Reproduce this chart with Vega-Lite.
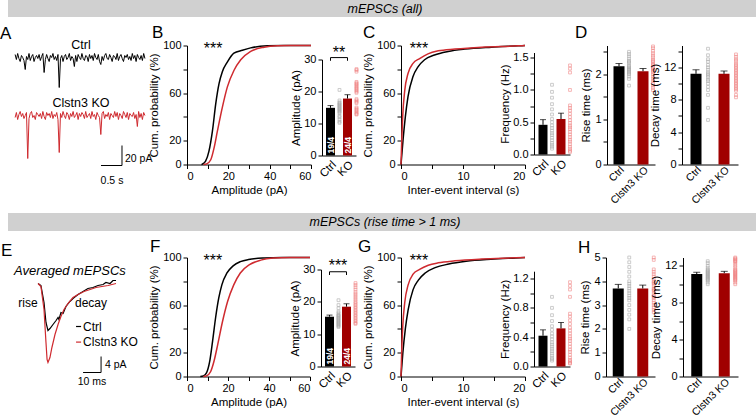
{
"$schema": "https://vega.github.io/schema/vega-lite/v6.json",
"padding": {"left": 0, "top": 0, "right": 0, "bottom": 0},
"background": "white",
"spacing": 6.5,
"config": {
 "font": "Liberation Sans",
 "view": {"stroke": null},
 "axis": {"domainColor": "#000000", "tickColor": "#000000", "labelColor": "#000000", "titleColor": "#000000", "labelFontSize": 11, "titleFontSize": 11.5, "titleFontWeight": "normal", "grid": false, "tickSize": 4, "labelPadding": 2, "titlePadding": 3, "labelFont": "Liberation Sans", "titleFont": "Liberation Sans"},
 "axisX": {"labelAngle": 0},
 "title": {"fontSize": 17, "fontWeight": "normal", "anchor": "start", "frame": "group", "baseline": "alphabetic", "font": "Liberation Sans", "color": "#000000"},
 "text": {"font": "Liberation Sans", "color": "#000000"}
},
"datasets": {
 "traceA": [
{"t":0.17,"Ctrl":110,"KO":47},{"t":0.20,"Ctrl":105,"KO":52},{"t":0.23,"Ctrl":111,"KO":45},{"t":0.26,"Ctrl":106,"KO":50},{"t":0.29,"Ctrl":103,"KO":53},{"t":0.32,"Ctrl":109,"KO":48},{"t":0.35,"Ctrl":107,"KO":51},{"t":0.38,"Ctrl":104,"KO":46},{"t":0.41,"Ctrl":95,"KO":49},{"t":0.44,"Ctrl":108,"KO":52},
{"t":0.47,"Ctrl":105,"KO":6},{"t":0.50,"Ctrl":111,"KO":46},{"t":0.53,"Ctrl":104,"KO":51},{"t":0.56,"Ctrl":108,"KO":53},{"t":0.59,"Ctrl":110,"KO":47},{"t":0.62,"Ctrl":103,"KO":49},{"t":0.65,"Ctrl":107,"KO":45},{"t":0.68,"Ctrl":109,"KO":52},{"t":0.71,"Ctrl":106,"KO":50},{"t":0.74,"Ctrl":110,"KO":48},
{"t":0.77,"Ctrl":104,"KO":51},{"t":0.80,"Ctrl":108,"KO":46},{"t":0.83,"Ctrl":111,"KO":53},{"t":0.86,"Ctrl":92,"KO":48},{"t":0.89,"Ctrl":105,"KO":45},{"t":0.92,"Ctrl":110,"KO":52},{"t":0.95,"Ctrl":106,"KO":49},{"t":0.98,"Ctrl":103,"KO":51},{"t":1.01,"Ctrl":109,"KO":47},{"t":1.04,"Ctrl":107,"KO":53},
{"t":1.07,"Ctrl":111,"KO":46},{"t":1.10,"Ctrl":105,"KO":50},{"t":1.13,"Ctrl":108,"KO":48},{"t":1.16,"Ctrl":104,"KO":52},{"t":1.19,"Ctrl":110,"KO":45},{"t":1.22,"Ctrl":77,"KO":12},{"t":1.25,"Ctrl":106,"KO":51},{"t":1.28,"Ctrl":109,"KO":47},{"t":1.31,"Ctrl":103,"KO":53},{"t":1.34,"Ctrl":108,"KO":49},
{"t":1.37,"Ctrl":110,"KO":46},{"t":1.40,"Ctrl":105,"KO":52},{"t":1.43,"Ctrl":107,"KO":50},{"t":1.46,"Ctrl":111,"KO":45},{"t":1.49,"Ctrl":104,"KO":51},{"t":1.52,"Ctrl":108,"KO":48},{"t":1.55,"Ctrl":106,"KO":53},{"t":1.58,"Ctrl":98,"KO":47},{"t":1.61,"Ctrl":109,"KO":49},{"t":1.64,"Ctrl":103,"KO":52},
{"t":1.67,"Ctrl":110,"KO":45},{"t":1.70,"Ctrl":107,"KO":51},{"t":1.73,"Ctrl":105,"KO":48},{"t":1.76,"Ctrl":111,"KO":52},{"t":1.79,"Ctrl":106,"KO":50},{"t":1.82,"Ctrl":104,"KO":46},{"t":1.85,"Ctrl":109,"KO":53},{"t":1.88,"Ctrl":108,"KO":47},{"t":1.91,"Ctrl":103,"KO":49},{"t":1.94,"Ctrl":110,"KO":51},
{"t":1.97,"Ctrl":106,"KO":46},{"t":2.00,"Ctrl":109,"KO":53},{"t":2.03,"Ctrl":104,"KO":48},{"t":2.06,"Ctrl":111,"KO":50},{"t":2.09,"Ctrl":107,"KO":45},{"t":2.12,"Ctrl":105,"KO":52},{"t":2.15,"Ctrl":110,"KO":49},{"t":2.18,"Ctrl":103,"KO":47},{"t":2.21,"Ctrl":100,"KO":30},{"t":2.24,"Ctrl":108,"KO":51},
{"t":2.27,"Ctrl":104,"KO":53},{"t":2.30,"Ctrl":109,"KO":46},{"t":2.33,"Ctrl":111,"KO":50},{"t":2.36,"Ctrl":106,"KO":48},{"t":2.39,"Ctrl":105,"KO":52},{"t":2.42,"Ctrl":110,"KO":45},{"t":2.45,"Ctrl":107,"KO":51},{"t":2.48,"Ctrl":103,"KO":49},{"t":2.51,"Ctrl":109,"KO":47},{"t":2.54,"Ctrl":108,"KO":53},
{"t":2.57,"Ctrl":105,"KO":48},{"t":2.60,"Ctrl":111,"KO":52},{"t":2.63,"Ctrl":104,"KO":45},{"t":2.66,"Ctrl":108,"KO":51},{"t":2.69,"Ctrl":110,"KO":49},{"t":2.72,"Ctrl":106,"KO":46},{"t":2.75,"Ctrl":103,"KO":53},{"t":2.78,"Ctrl":109,"KO":50},{"t":2.81,"Ctrl":107,"KO":47},{"t":2.84,"Ctrl":110,"KO":52},
{"t":2.87,"Ctrl":105,"KO":45},{"t":2.90,"Ctrl":108,"KO":51},{"t":2.93,"Ctrl":104,"KO":49},{"t":2.96,"Ctrl":111,"KO":48},{"t":2.99,"Ctrl":106,"KO":52},{"t":3.02,"Ctrl":109,"KO":46},{"t":3.05,"Ctrl":103,"KO":50},{"t":3.08,"Ctrl":110,"KO":38},{"t":3.11,"Ctrl":107,"KO":53},{"t":3.14,"Ctrl":105,"KO":47},
{"t":3.17,"Ctrl":109,"KO":51},{"t":3.20,"Ctrl":104,"KO":45},{"t":3.23,"Ctrl":111,"KO":52},{"t":3.26,"Ctrl":106,"KO":49}
 ],
 "traceE": [
{"g":"Ctrl","t":16.7,"v":23.25},{"g":"Ctrl","t":18.3,"v":22.75},{"g":"Ctrl","t":20.0,"v":18.5},{"g":"Ctrl","t":21.1,"v":13.5},{"g":"Ctrl","t":22.2,"v":11.5},{"g":"Ctrl","t":23.3,"v":12.0},{"g":"Ctrl","t":25.0,"v":13.0},{"g":"Ctrl","t":26.7,"v":14.0},{"g":"Ctrl","t":27.8,"v":14.75},{"g":"Ctrl","t":28.3,"v":14.25},{"g":"Ctrl","t":29.4,"v":16.0},{"g":"Ctrl","t":30.6,"v":15.75},{"g":"Ctrl","t":32.2,"v":17.5},{"g":"Ctrl","t":34.4,"v":18.75},{"g":"Ctrl","t":36.1,"v":19.5},{"g":"Ctrl","t":38.9,"v":20.5},{"g":"Ctrl","t":41.7,"v":21.25},{"g":"Ctrl","t":44.4,"v":22.0},{"g":"Ctrl","t":47.2,"v":22.25},{"g":"Ctrl","t":50.0,"v":22.75},{"g":"Ctrl","t":52.8,"v":23.0},{"g":"Ctrl","t":54.4,"v":23.5},{"g":"Ctrl","t":56.7,"v":23.25},{"g":"Ctrl","t":58.3,"v":24.0},{"g":"Ctrl","t":60.0,"v":24.0},
{"g":"KO","t":16.7,"v":23.25},{"g":"KO","t":18.3,"v":22.5},{"g":"KO","t":20.0,"v":16.75},{"g":"KO","t":21.1,"v":8.5},{"g":"KO","t":21.7,"v":4.25},{"g":"KO","t":22.2,"v":3.5},{"g":"KO","t":23.3,"v":4.75},{"g":"KO","t":24.4,"v":7.25},{"g":"KO","t":26.1,"v":10.5},{"g":"KO","t":27.8,"v":13.0},{"g":"KO","t":29.4,"v":15.0},{"g":"KO","t":31.1,"v":16.75},{"g":"KO","t":33.3,"v":18.25},{"g":"KO","t":36.1,"v":19.75},{"g":"KO","t":38.9,"v":20.5},{"g":"KO","t":42.2,"v":21.25},{"g":"KO","t":45.6,"v":21.75},{"g":"KO","t":48.9,"v":22.25},{"g":"KO","t":52.2,"v":22.5},{"g":"KO","t":55.6,"v":22.75},{"g":"KO","t":60.0,"v":23.25}
 ]
},
"vconcat": [
 {"width": 754, "height": 17, "view": {"fill": "#d0d0d0"}, "data": {"values": [{"s": "mEPSCs (all)"}]}, "mark": {"type": "text", "fontStyle": "italic", "fontSize": 12.5}, "encoding": {"text": {"field": "s"}}},
 {"hconcat": [
  {"width": 179, "height": 119, "title": {"text": "A", "dx": -8, "offset": -4.5},
   "encoding": {"x": {"field": "t", "type": "quantitative", "scale": {"domain": [0, 4.262], "nice": false, "zero": false}, "axis": null}, "y": {"field": "v", "type": "quantitative", "scale": {"domain": [0, 119], "nice": false, "zero": false}, "axis": null}},
   "layer": [
    {"data": {"name": "traceA"}, "transform": [{"fold": ["Ctrl", "KO"], "as": ["g", "v"]}], "mark": {"type": "line", "strokeWidth": 1}, "encoding": {"color": {"field": "g", "type": "nominal", "scale": {"domain": ["Ctrl", "KO"], "range": ["#000000", "#cf2a2f"]}, "legend": null}}},
    {"data": {"values": [{"t": 2.714, "t2": 2.714, "v": -1, "v2": 19}, {"t": 2.214, "t2": 2.714, "v": -1, "v2": -1}]}, "mark": {"type": "rule", "color": "#000000", "strokeWidth": 1}, "encoding": {"x2": {"field": "t2"}, "y2": {"field": "v2"}}},
    {"data": {"values": [{"t": 1.738, "v": 120, "s": "Ctrl"}, {"t": 1.738, "v": 62, "s": "Clstn3 KO"}]}, "mark": {"type": "text", "fontSize": 12.5}, "encoding": {"text": {"field": "s"}}},
    {"data": {"values": [{"t": 2.786, "v": 6, "s": "20 pA"}]}, "mark": {"type": "text", "fontSize": 10.5, "align": "left"}, "encoding": {"text": {"field": "s"}}},
    {"data": {"values": [{"t": 2.476, "v": -16, "s": "0.5 s"}]}, "mark": {"type": "text", "fontSize": 10.5}, "encoding": {"text": {"field": "s"}}}
   ]},
  {"width": 135, "height": 119, "title": {"text": "B", "dx": -35, "offset": -2.5},
   "encoding": {
    "x": {"field": "x", "type": "quantitative", "scale": {"domain": [0, 60], "range": [0, 124], "nice": false}, "axis": {"values": [0, 10, 20, 30, 40, 50, 60], "labelExpr": "datum.value % 20 == 0 ? datum.label : ''", "title": "Amplitude (pA)"}},
    "y": {"field": "p", "type": "quantitative", "scale": {"domain": [0, 100], "nice": false}, "axis": {"values": [0, 20, 40, 60, 80, 100], "labelExpr": "(datum.value == 40 || datum.value == 80) ? '' : datum.label", "title": "Cum. probability (%)"}}},
   "layer": [
    {"data": {"values": [
{"g":"Ctrl","x":7,"p":0},{"g":"Ctrl","x":7.4,"p":0.3},{"g":"Ctrl","x":9,"p":2.8},{"g":"Ctrl","x":10.6,"p":11},{"g":"Ctrl","x":12.3,"p":28},{"g":"Ctrl","x":13.9,"p":51},{"g":"Ctrl","x":15.5,"p":68},{"g":"Ctrl","x":17.1,"p":78},{"g":"Ctrl","x":19.5,"p":86},{"g":"Ctrl","x":22.7,"p":93.5},{"g":"Ctrl","x":26.8,"p":96},{"g":"Ctrl","x":30.8,"p":98},{"g":"Ctrl","x":38.9,"p":99.7},{"g":"Ctrl","x":47,"p":100},{"g":"Ctrl","x":60,"p":100},
{"g":"KO","x":8,"p":0},{"g":"KO","x":9.5,"p":0.5},{"g":"KO","x":11.5,"p":4},{"g":"KO","x":13.1,"p":14},{"g":"KO","x":14.7,"p":28},{"g":"KO","x":17.1,"p":48},{"g":"KO","x":19.5,"p":65},{"g":"KO","x":22.7,"p":79},{"g":"KO","x":26,"p":88},{"g":"KO","x":30.8,"p":95},{"g":"KO","x":37.3,"p":98.6},{"g":"KO","x":43.7,"p":99.8},{"g":"KO","x":50,"p":100},{"g":"KO","x":60,"p":100}
    ]}, "mark": {"type": "line", "interpolate": "monotone", "strokeWidth": 1.5}, "encoding": {"color": {"field": "g", "type": "nominal", "scale": {"domain": ["Ctrl", "KO"], "range": ["#000000", "#d8232a"]}, "legend": null}}},
    {"data": {"values": [{"x": 12.6, "p": 97, "s": "***"}]}, "mark": {"type": "text", "fontSize": 16, "baseline": "middle"}, "encoding": {"text": {"field": "s"}}}
   ]},
  {"width": 79, "height": 119,
   "encoding": {
    "x": {"field": "g", "type": "nominal", "sort": null, "scale": {"domain": ["Ctrl", "KO"], "range": [0, 34], "paddingInner": 0, "paddingOuter": 0}, "axis": {"title": null, "ticks": false, "labelAngle": -45, "labelFontSize": 11.5, "labelPadding": 3, "offset": -9}},
    "y": {"field": "v", "type": "quantitative", "scale": {"domain": [0, 30], "range": [110, 14], "nice": false}, "axis": {"values": [0, 10, 20, 30], "title": "Amplitude (pA)", "titlePadding": 2}}},
   "layer": [
    {"data": {"values": [{"g": "Ctrl", "v": 14.9}, {"g": "KO", "v": 17.8}]}, "mark": {"type": "bar", "width": 9}, "encoding": {"fill": {"field": "g", "type": "nominal", "scale": {"domain": ["Ctrl", "KO"], "range": ["#000000", "#a00000"]}, "legend": null}}},
    {"data": {"values": [{"g": "Ctrl", "v": 15.6, "v2": 14.9}, {"g": "KO", "v": 19.0, "v2": 17.8}]}, "mark": {"type": "rule", "color": "#000000"}, "encoding": {"y2": {"field": "v2"}}},
    {"data": {"values": [{"g": "Ctrl", "v": 15.6}, {"g": "KO", "v": 19.0}]}, "mark": {"type": "tick", "color": "#000000", "size": 6, "thickness": 1}},
    {"data": {"values": [{"g": "Ctrl", "v": 0, "s": "19/4"}, {"g": "KO", "v": 0, "s": "24/4"}]}, "mark": {"type": "text", "angle": 270, "align": "left", "baseline": "middle", "dx": 2, "color": "#ffffff", "fontSize": 8.5, "fontWeight": "bold"}, "encoding": {"text": {"field": "s"}}},
    {"data": {"values": [{"g": "Ctrl", "g2": "KO", "v": 30.6, "v2": 30.6}]}, "mark": {"type": "rule", "color": "#000000"}, "encoding": {"x2": {"field": "g2"}, "y2": {"field": "v2"}}},
    {"data": {"values": [{"g": "Ctrl", "v": 30.6, "v2": 29.6}, {"g": "KO", "v": 30.6, "v2": 29.6}]}, "mark": {"type": "rule", "color": "#000000"}, "encoding": {"y2": {"field": "v2"}}},
    {"data": {"values": [{"g": "Ctrl", "v": 32, "s": "**"}]}, "mark": {"type": "text", "fontSize": 16, "dx": 8.5, "baseline": "middle"}, "encoding": {"text": {"field": "s"}}},
    {"data": {"values": [
{"g":"Ctrl","v":20.5},{"g":"Ctrl","v":17.2},{"g":"Ctrl","v":16.6},{"g":"Ctrl","v":16.3},{"g":"Ctrl","v":16.0},{"g":"Ctrl","v":15.7},{"g":"Ctrl","v":15.4},{"g":"Ctrl","v":15.1},{"g":"Ctrl","v":14.8},{"g":"Ctrl","v":14.5},{"g":"Ctrl","v":14.2},{"g":"Ctrl","v":13.9},{"g":"Ctrl","v":13.6},{"g":"Ctrl","v":13.2},{"g":"Ctrl","v":12.4},{"g":"Ctrl","v":12.0},{"g":"Ctrl","v":11.3},{"g":"Ctrl","v":10.6},{"g":"Ctrl","v":10.2},
{"g":"KO","v":27.0},{"g":"KO","v":26.7},{"g":"KO","v":26.2},{"g":"KO","v":23.0},{"g":"KO","v":22.6},{"g":"KO","v":22.3},{"g":"KO","v":21.9},{"g":"KO","v":21.5},{"g":"KO","v":21.1},{"g":"KO","v":20.8},{"g":"KO","v":20.4},{"g":"KO","v":20.0},{"g":"KO","v":19.6},{"g":"KO","v":17.6},{"g":"KO","v":17.2},{"g":"KO","v":16.8},{"g":"KO","v":16.4},{"g":"KO","v":15.0},{"g":"KO","v":14.6},{"g":"KO","v":14.2},{"g":"KO","v":13.8},{"g":"KO","v":13.4},{"g":"KO","v":13.0},{"g":"KO","v":12.8}
    ]}, "mark": {"type": "point", "shape": "square", "filled": false, "size": 8, "strokeWidth": 0.8, "xOffset": 9}, "encoding": {"stroke": {"field": "g", "type": "nominal", "scale": {"domain": ["Ctrl", "KO"], "range": ["#a6a6a6", "#f07f7f"]}, "legend": null}}}
   ]},
  {"width": 133, "height": 119, "title": {"text": "C", "dx": -38, "offset": -2.5},
   "encoding": {
    "x": {"field": "x", "type": "quantitative", "scale": {"domain": [0, 20], "range": [0, 124], "nice": false}, "axis": {"values": [0, 5, 10, 15, 20], "labelExpr": "datum.value % 10 == 0 ? datum.label : ''", "title": "Inter-event interval (s)"}},
    "y": {"field": "p", "type": "quantitative", "scale": {"domain": [0, 100], "nice": false}, "axis": {"values": [0, 20, 40, 60, 80, 100], "labelExpr": "(datum.value == 40 || datum.value == 80) ? '' : datum.label", "title": "Cum. probability (%)"}}},
   "layer": [
    {"data": {"values": [
{"g":"Ctrl","x":0,"p":0},{"g":"Ctrl","x":0.32,"p":20},{"g":"Ctrl","x":0.7,"p":40},{"g":"Ctrl","x":1.13,"p":57},{"g":"Ctrl","x":1.94,"p":74},{"g":"Ctrl","x":2.74,"p":82},{"g":"Ctrl","x":3.8,"p":88},{"g":"Ctrl","x":5.4,"p":92},{"g":"Ctrl","x":7.6,"p":95},{"g":"Ctrl","x":10.3,"p":97},{"g":"Ctrl","x":14.6,"p":98.6},{"g":"Ctrl","x":18.9,"p":99.7},{"g":"Ctrl","x":20,"p":100},
{"g":"KO","x":0,"p":0},{"g":"KO","x":0.12,"p":20},{"g":"KO","x":0.27,"p":40},{"g":"KO","x":0.6,"p":62},{"g":"KO","x":1.13,"p":76.5},{"g":"KO","x":1.94,"p":85},{"g":"KO","x":3.0,"p":89},{"g":"KO","x":4.35,"p":93},{"g":"KO","x":6,"p":95.5},{"g":"KO","x":8.7,"p":97},{"g":"KO","x":13,"p":98.6},{"g":"KO","x":18.9,"p":99.7},{"g":"KO","x":20,"p":100}
    ]}, "mark": {"type": "line", "interpolate": "monotone", "strokeWidth": 1.5}, "encoding": {"color": {"field": "g", "type": "nominal", "scale": {"domain": ["Ctrl", "KO"], "range": ["#000000", "#d8232a"]}, "legend": null}}},
    {"data": {"values": [{"x": 2.9, "p": 97, "s": "***"}]}, "mark": {"type": "text", "fontSize": 16, "baseline": "middle"}, "encoding": {"text": {"field": "s"}}}
   ]},
  {"width": 73, "height": 119,
   "encoding": {
    "x": {"field": "g", "type": "nominal", "sort": null, "scale": {"domain": ["Ctrl", "KO"], "range": [0, 36], "paddingInner": 0, "paddingOuter": 0}, "axis": {"title": null, "ticks": false, "labelAngle": -45, "labelFontSize": 11.5, "labelPadding": 3, "offset": -10}},
    "y": {"field": "v", "type": "quantitative", "scale": {"domain": [0, 1.58], "range": [109, 7], "nice": false}, "axis": {"values": [0, 0.25, 0.5, 0.75, 1, 1.25, 1.5], "labelExpr": "(datum.value * 2) % 1 == 0 ? format(datum.value, '.1f') : ''", "title": "Frequency (Hz)", "titlePadding": 2}}},
   "layer": [
    {"data": {"values": [{"g": "Ctrl", "v": 0.46}, {"g": "KO", "v": 0.55}]}, "mark": {"type": "bar", "width": 9}, "encoding": {"fill": {"field": "g", "type": "nominal", "scale": {"domain": ["Ctrl", "KO"], "range": ["#000000", "#a00000"]}, "legend": null}}},
    {"data": {"values": [{"g": "Ctrl", "v": 0.54, "v2": 0.46}, {"g": "KO", "v": 0.64, "v2": 0.55}]}, "mark": {"type": "rule", "color": "#000000"}, "encoding": {"y2": {"field": "v2"}}},
    {"data": {"values": [{"g": "Ctrl", "v": 0.54}, {"g": "KO", "v": 0.64}]}, "mark": {"type": "tick", "color": "#000000", "size": 6, "thickness": 1}},
    {"data": {"values": [
{"g":"Ctrl","v":1.08},{"g":"Ctrl","v":0.97},{"g":"Ctrl","v":0.88},{"g":"Ctrl","v":0.78},{"g":"Ctrl","v":0.70},{"g":"Ctrl","v":0.62},{"g":"Ctrl","v":0.55},{"g":"Ctrl","v":0.50},{"g":"Ctrl","v":0.45},{"g":"Ctrl","v":0.41},{"g":"Ctrl","v":0.37},{"g":"Ctrl","v":0.33},{"g":"Ctrl","v":0.30},{"g":"Ctrl","v":0.26},{"g":"Ctrl","v":0.22},{"g":"Ctrl","v":0.18},{"g":"Ctrl","v":0.15},{"g":"Ctrl","v":0.12},{"g":"Ctrl","v":0.09},
{"g":"KO","v":1.38},{"g":"KO","v":1.33},{"g":"KO","v":1.27},{"g":"KO","v":1.0},{"g":"KO","v":0.76},{"g":"KO","v":0.72},{"g":"KO","v":0.68},{"g":"KO","v":0.63},{"g":"KO","v":0.58},{"g":"KO","v":0.53},{"g":"KO","v":0.49},{"g":"KO","v":0.45},{"g":"KO","v":0.42},{"g":"KO","v":0.39},{"g":"KO","v":0.35},{"g":"KO","v":0.31},{"g":"KO","v":0.27},{"g":"KO","v":0.23},{"g":"KO","v":0.20},{"g":"KO","v":0.16},{"g":"KO","v":0.12},{"g":"KO","v":0.09},{"g":"KO","v":0.06},{"g":"KO","v":0.04}
    ]}, "mark": {"type": "point", "shape": "square", "filled": false, "size": 8, "strokeWidth": 0.8, "xOffset": 9}, "encoding": {"stroke": {"field": "g", "type": "nominal", "scale": {"domain": ["Ctrl", "KO"], "range": ["#a6a6a6", "#f07f7f"]}, "legend": null}}}
   ]},
  {"width": 75, "height": 119, "title": {"text": "D", "dx": -32, "offset": 1.5},
   "encoding": {
    "x": {"field": "g", "type": "nominal", "sort": null, "scale": {"domain": ["Ctrl", "KO"], "range": [0, 48], "paddingInner": 0, "paddingOuter": 0}, "axis": {"title": null, "ticks": false, "labelAngle": -45, "labelFontSize": 10.5, "labelPadding": 0, "labelExpr": "datum.value == 'KO' ? 'Clstn3 KO' : 'Ctrl'"}},
    "y": {"field": "v", "type": "quantitative", "scale": {"domain": [0, 2.64], "nice": false}, "axis": {"values": [0, 0.5, 1, 1.5, 2, 2.5], "labelExpr": "datum.value % 1 == 0 ? format(datum.value, 'd') : ''", "title": "Rise time (ms)"}}},
   "layer": [
    {"data": {"values": [{"g": "Ctrl", "v": 2.18}, {"g": "KO", "v": 2.07}]}, "mark": {"type": "bar", "width": 11}, "encoding": {"fill": {"field": "g", "type": "nominal", "scale": {"domain": ["Ctrl", "KO"], "range": ["#000000", "#a00000"]}, "legend": null}}},
    {"data": {"values": [{"g": "Ctrl", "v": 2.24, "v2": 2.18}, {"g": "KO", "v": 2.13, "v2": 2.07}]}, "mark": {"type": "rule", "color": "#000000"}, "encoding": {"y2": {"field": "v2"}}},
    {"data": {"values": [{"g": "Ctrl", "v": 2.24}, {"g": "KO", "v": 2.13}]}, "mark": {"type": "tick", "color": "#000000", "size": 7, "thickness": 1}},
    {"data": {"values": [
{"g":"Ctrl","v":2.5},{"g":"Ctrl","v":2.45},{"g":"Ctrl","v":2.4},{"g":"Ctrl","v":2.35},{"g":"Ctrl","v":2.3},{"g":"Ctrl","v":2.28},{"g":"Ctrl","v":2.25},{"g":"Ctrl","v":2.2},{"g":"Ctrl","v":2.17},{"g":"Ctrl","v":2.15},{"g":"Ctrl","v":2.12},{"g":"Ctrl","v":2.1},{"g":"Ctrl","v":2.08},{"g":"Ctrl","v":2.05},{"g":"Ctrl","v":2.02},{"g":"Ctrl","v":2.0},{"g":"Ctrl","v":1.95},{"g":"Ctrl","v":1.9},{"g":"Ctrl","v":1.75},
{"g":"KO","v":2.62},{"g":"KO","v":2.58},{"g":"KO","v":2.52},{"g":"KO","v":2.47},{"g":"KO","v":2.42},{"g":"KO","v":2.38},{"g":"KO","v":2.33},{"g":"KO","v":2.3},{"g":"KO","v":2.27},{"g":"KO","v":2.23},{"g":"KO","v":2.2},{"g":"KO","v":2.17},{"g":"KO","v":2.14},{"g":"KO","v":2.11},{"g":"KO","v":2.08},{"g":"KO","v":2.05},{"g":"KO","v":2.0},{"g":"KO","v":1.95},{"g":"KO","v":1.9},{"g":"KO","v":1.85},{"g":"KO","v":1.8},{"g":"KO","v":1.75},{"g":"KO","v":1.7},{"g":"KO","v":1.65}
    ]}, "mark": {"type": "point", "shape": "square", "filled": false, "size": 8, "strokeWidth": 0.8, "xOffset": 10}, "encoding": {"stroke": {"field": "g", "type": "nominal", "scale": {"domain": ["Ctrl", "KO"], "range": ["#a6a6a6", "#f07f7f"]}, "legend": null}}}
   ]},
  {"width": 72, "height": 119,
   "encoding": {
    "x": {"field": "g", "type": "nominal", "sort": null, "scale": {"domain": ["Ctrl", "KO"], "range": [0, 56], "paddingInner": 0, "paddingOuter": 0}, "axis": {"title": null, "ticks": false, "labelAngle": -45, "labelFontSize": 10.5, "labelPadding": 0, "labelExpr": "datum.value == 'KO' ? 'Clstn3 KO' : 'Ctrl'"}},
    "y": {"field": "v", "type": "quantitative", "scale": {"domain": [0, 14.7], "nice": false}, "axis": {"values": [0, 2, 4, 6, 8, 10, 12, 14], "labelExpr": "datum.value % 4 == 0 ? format(datum.value, 'd') : ''", "title": "Decay time (ms)"}}},
   "layer": [
    {"data": {"values": [{"g": "Ctrl", "v": 11.2}, {"g": "KO", "v": 11.2}]}, "mark": {"type": "bar", "width": 11}, "encoding": {"fill": {"field": "g", "type": "nominal", "scale": {"domain": ["Ctrl", "KO"], "range": ["#000000", "#a00000"]}, "legend": null}}},
    {"data": {"values": [{"g": "Ctrl", "v": 11.7, "v2": 11.2}, {"g": "KO", "v": 11.55, "v2": 11.2}]}, "mark": {"type": "rule", "color": "#000000"}, "encoding": {"y2": {"field": "v2"}}},
    {"data": {"values": [{"g": "Ctrl", "v": 11.7}, {"g": "KO", "v": 11.55}]}, "mark": {"type": "tick", "color": "#000000", "size": 7, "thickness": 1}},
    {"data": {"values": [
{"g":"Ctrl","v":14.3},{"g":"Ctrl","v":13.5},{"g":"Ctrl","v":13.0},{"g":"Ctrl","v":12.7},{"g":"Ctrl","v":12.3},{"g":"Ctrl","v":12.0},{"g":"Ctrl","v":11.7},{"g":"Ctrl","v":11.4},{"g":"Ctrl","v":11.2},{"g":"Ctrl","v":11.0},{"g":"Ctrl","v":10.8},{"g":"Ctrl","v":10.5},{"g":"Ctrl","v":10.3},{"g":"Ctrl","v":10.0},{"g":"Ctrl","v":9.6},{"g":"Ctrl","v":9.2},{"g":"Ctrl","v":8.6},{"g":"Ctrl","v":7.0},{"g":"Ctrl","v":5.5},
{"g":"KO","v":13.6},{"g":"KO","v":13.3},{"g":"KO","v":13.0},{"g":"KO","v":12.8},{"g":"KO","v":12.5},{"g":"KO","v":12.3},{"g":"KO","v":12.1},{"g":"KO","v":11.9},{"g":"KO","v":11.7},{"g":"KO","v":11.5},{"g":"KO","v":11.3},{"g":"KO","v":11.1},{"g":"KO","v":10.9},{"g":"KO","v":10.7},{"g":"KO","v":10.5},{"g":"KO","v":10.3},{"g":"KO","v":10.1},{"g":"KO","v":9.9},{"g":"KO","v":9.7},{"g":"KO","v":9.5},{"g":"KO","v":9.3},{"g":"KO","v":9.1},{"g":"KO","v":8.6},{"g":"KO","v":8.3}
    ]}, "mark": {"type": "point", "shape": "square", "filled": false, "size": 8, "strokeWidth": 0.8, "xOffset": 12}, "encoding": {"stroke": {"field": "g", "type": "nominal", "scale": {"domain": ["Ctrl", "KO"], "range": ["#a6a6a6", "#f07f7f"]}, "legend": null}}}
   ]}
 ], "spacing": 0, "bounds": "flush"},
 {"width": 754, "height": 18, "view": {"fill": "#d0d0d0"}, "data": {"values": [{"s": "mEPSCs (rise time > 1 ms)"}]}, "mark": {"type": "text", "fontStyle": "italic", "fontSize": 12.5}, "encoding": {"text": {"field": "s"}}},
 {"hconcat": [
  {"width": 179, "height": 119, "title": {"text": "E", "dx": -7, "offset": -2},
   "encoding": {"x": {"field": "t", "type": "quantitative", "scale": {"domain": [0, 99.44], "nice": false, "zero": false}, "axis": null}, "y": {"field": "v", "type": "quantitative", "scale": {"domain": [0, 29.75], "nice": false, "zero": false}, "axis": null}},
   "layer": [
    {"data": {"name": "traceE"}, "mark": {"type": "line", "strokeWidth": 1.2}, "encoding": {"color": {"field": "g", "type": "nominal", "scale": {"domain": ["Ctrl", "KO"], "range": ["#000000", "#d8232a"]}, "legend": null}}},
    {"data": {"values": [{"g": "Ctrl", "t": 37.8, "t2": 40.6, "v": 12.5, "v2": 12.5}, {"g": "KO", "t": 37.8, "t2": 40.6, "v": 8.6, "v2": 8.6}]}, "mark": {"type": "rule", "strokeWidth": 1.2}, "encoding": {"x2": {"field": "t2"}, "y2": {"field": "v2"}, "color": {"field": "g", "type": "nominal", "legend": null}}},
    {"data": {"values": [{"t": 51.7, "t2": 51.7, "v": 1, "v2": 5}, {"t": 41.7, "t2": 51.7, "v": 1, "v2": 1}]}, "mark": {"type": "rule", "color": "#000000", "strokeWidth": 1}, "encoding": {"x2": {"field": "t2"}, "y2": {"field": "v2"}}},
    {"data": {"values": [{"t": 34.4, "v": 26.5, "s": "Averaged mEPSCs"}]}, "mark": {"type": "text", "fontSize": 13, "fontStyle": "italic"}, "encoding": {"text": {"field": "s"}}},
    {"data": {"values": [{"t": 11.1, "v": 18.5, "s": "rise"}, {"t": 46.1, "v": 18.5, "s": "decay"}]}, "mark": {"type": "text", "fontSize": 12}, "encoding": {"text": {"field": "s"}}},
    {"data": {"values": [{"t": 41.7, "v": 12.5, "s": "Ctrl"}, {"t": 41.7, "v": 8.6, "s": "Clstn3 KO"}]}, "mark": {"type": "text", "fontSize": 12, "align": "left"}, "encoding": {"text": {"field": "s"}}},
    {"data": {"values": [{"t": 53.9, "v": 3, "s": "4 pA"}]}, "mark": {"type": "text", "fontSize": 10.5, "align": "left"}, "encoding": {"text": {"field": "s"}}},
    {"data": {"values": [{"t": 46.7, "v": -1.25, "s": "10 ms"}]}, "mark": {"type": "text", "fontSize": 10.5}, "encoding": {"text": {"field": "s"}}}
   ]},
  {"width": 134, "height": 119, "title": {"text": "F", "dx": -37, "offset": -4},
   "encoding": {
    "x": {"field": "x", "type": "quantitative", "scale": {"domain": [0, 60], "range": [0, 123], "nice": false}, "axis": {"values": [0, 10, 20, 30, 40, 50, 60], "labelExpr": "datum.value % 20 == 0 ? datum.label : ''", "title": "Amplitude (pA)"}},
    "y": {"field": "p", "type": "quantitative", "scale": {"domain": [0, 100], "nice": false}, "axis": {"values": [0, 20, 40, 60, 80, 100], "labelExpr": "(datum.value == 40 || datum.value == 80) ? '' : datum.label", "title": "Cum. probability (%)"}}},
   "layer": [
    {"data": {"values": [
{"g":"Ctrl","x":6.5,"p":0},{"g":"Ctrl","x":8,"p":0.5},{"g":"Ctrl","x":9.5,"p":3},{"g":"Ctrl","x":11,"p":12},{"g":"Ctrl","x":12.5,"p":30},{"g":"Ctrl","x":14,"p":50},{"g":"Ctrl","x":15.5,"p":66},{"g":"Ctrl","x":17,"p":77},{"g":"Ctrl","x":19.5,"p":87},{"g":"Ctrl","x":22.5,"p":93},{"g":"Ctrl","x":26,"p":96.5},{"g":"Ctrl","x":30,"p":98.3},{"g":"Ctrl","x":38,"p":99.6},{"g":"Ctrl","x":46,"p":100},{"g":"Ctrl","x":60,"p":100},
{"g":"KO","x":8,"p":0},{"g":"KO","x":9.5,"p":0.5},{"g":"KO","x":11.5,"p":4},{"g":"KO","x":13.2,"p":13},{"g":"KO","x":15,"p":27},{"g":"KO","x":17.3,"p":46},{"g":"KO","x":19.8,"p":63},{"g":"KO","x":22.8,"p":77},{"g":"KO","x":26,"p":87},{"g":"KO","x":30.5,"p":94},{"g":"KO","x":36,"p":97.8},{"g":"KO","x":42,"p":99.5},{"g":"KO","x":50,"p":100},{"g":"KO","x":60,"p":100}
    ]}, "mark": {"type": "line", "interpolate": "monotone", "strokeWidth": 1.5}, "encoding": {"color": {"field": "g", "type": "nominal", "scale": {"domain": ["Ctrl", "KO"], "range": ["#000000", "#d8232a"]}, "legend": null}}},
    {"data": {"values": [{"x": 12.6, "p": 97, "s": "***"}]}, "mark": {"type": "text", "fontSize": 16, "baseline": "middle"}, "encoding": {"text": {"field": "s"}}}
   ]},
  {"width": 80, "height": 119,
   "encoding": {
    "x": {"field": "g", "type": "nominal", "sort": null, "scale": {"domain": ["Ctrl", "KO"], "range": [0, 34], "paddingInner": 0, "paddingOuter": 0}, "axis": {"title": null, "ticks": false, "labelAngle": -45, "labelFontSize": 11.5, "labelPadding": 3, "offset": -10}},
    "y": {"field": "v", "type": "quantitative", "scale": {"domain": [0, 30], "range": [109, 12], "nice": false}, "axis": {"values": [0, 10, 20, 30], "title": "Amplitude (pA)", "titlePadding": 2}}},
   "layer": [
    {"data": {"values": [{"g": "Ctrl", "v": 15.4}, {"g": "KO", "v": 18.5}]}, "mark": {"type": "bar", "width": 9}, "encoding": {"fill": {"field": "g", "type": "nominal", "scale": {"domain": ["Ctrl", "KO"], "range": ["#000000", "#a00000"]}, "legend": null}}},
    {"data": {"values": [{"g": "Ctrl", "v": 15.9, "v2": 15.4}, {"g": "KO", "v": 19.4, "v2": 18.5}]}, "mark": {"type": "rule", "color": "#000000"}, "encoding": {"y2": {"field": "v2"}}},
    {"data": {"values": [{"g": "Ctrl", "v": 15.9}, {"g": "KO", "v": 19.4}]}, "mark": {"type": "tick", "color": "#000000", "size": 6, "thickness": 1}},
    {"data": {"values": [{"g": "Ctrl", "v": 0, "s": "19/4"}, {"g": "KO", "v": 0, "s": "24/4"}]}, "mark": {"type": "text", "angle": 270, "align": "left", "baseline": "middle", "dx": 2, "color": "#ffffff", "fontSize": 8.5, "fontWeight": "bold"}, "encoding": {"text": {"field": "s"}}},
    {"data": {"values": [{"g": "Ctrl", "g2": "KO", "v": 29.3, "v2": 29.3}]}, "mark": {"type": "rule", "color": "#000000"}, "encoding": {"x2": {"field": "g2"}, "y2": {"field": "v2"}}},
    {"data": {"values": [{"g": "Ctrl", "v": 29.3, "v2": 28.3}, {"g": "KO", "v": 29.3, "v2": 28.3}]}, "mark": {"type": "rule", "color": "#000000"}, "encoding": {"y2": {"field": "v2"}}},
    {"data": {"values": [{"g": "Ctrl", "v": 31, "s": "***"}]}, "mark": {"type": "text", "fontSize": 16, "dx": 8.5, "baseline": "middle"}, "encoding": {"text": {"field": "s"}}},
    {"data": {"values": [
{"g":"Ctrl","v":20.5},{"g":"Ctrl","v":19.0},{"g":"Ctrl","v":18.0},{"g":"Ctrl","v":17.0},{"g":"Ctrl","v":16.5},{"g":"Ctrl","v":16.0},{"g":"Ctrl","v":15.8},{"g":"Ctrl","v":15.5},{"g":"Ctrl","v":15.2},{"g":"Ctrl","v":14.9},{"g":"Ctrl","v":14.6},{"g":"Ctrl","v":14.3},{"g":"Ctrl","v":14.0},{"g":"Ctrl","v":13.7},{"g":"Ctrl","v":13.4},{"g":"Ctrl","v":13.1},{"g":"Ctrl","v":12.8},{"g":"Ctrl","v":12.5},{"g":"Ctrl","v":12.2},
{"g":"KO","v":25.8},{"g":"KO","v":25.2},{"g":"KO","v":24.5},{"g":"KO","v":23.8},{"g":"KO","v":23.0},{"g":"KO","v":22.4},{"g":"KO","v":21.8},{"g":"KO","v":21.2},{"g":"KO","v":20.6},{"g":"KO","v":20.0},{"g":"KO","v":19.5},{"g":"KO","v":19.0},{"g":"KO","v":18.5},{"g":"KO","v":18.0},{"g":"KO","v":17.5},{"g":"KO","v":17.0},{"g":"KO","v":16.5},{"g":"KO","v":16.0},{"g":"KO","v":15.5},{"g":"KO","v":15.0},{"g":"KO","v":14.5},{"g":"KO","v":14.0},{"g":"KO","v":13.5},{"g":"KO","v":13.2}
    ]}, "mark": {"type": "point", "shape": "square", "filled": false, "size": 8, "strokeWidth": 0.8, "xOffset": 9}, "encoding": {"stroke": {"field": "g", "type": "nominal", "scale": {"domain": ["Ctrl", "KO"], "range": ["#a6a6a6", "#f07f7f"]}, "legend": null}}}
   ]},
  {"width": 133, "height": 119, "title": {"text": "G", "dx": -43, "offset": -4},
   "encoding": {
    "x": {"field": "x", "type": "quantitative", "scale": {"domain": [0, 20], "range": [0, 124], "nice": false}, "axis": {"values": [0, 5, 10, 15, 20], "labelExpr": "datum.value % 10 == 0 ? datum.label : ''", "title": "Inter-event interval (s)"}},
    "y": {"field": "p", "type": "quantitative", "scale": {"domain": [0, 100], "nice": false}, "axis": {"values": [0, 20, 40, 60, 80, 100], "labelExpr": "(datum.value == 40 || datum.value == 80) ? '' : datum.label", "title": "Cum. probability (%)"}}},
   "layer": [
    {"data": {"values": [
{"g":"Ctrl","x":0,"p":0},{"g":"Ctrl","x":0.3,"p":20},{"g":"Ctrl","x":0.7,"p":40},{"g":"Ctrl","x":1.15,"p":56},{"g":"Ctrl","x":1.95,"p":73},{"g":"Ctrl","x":2.8,"p":81},{"g":"Ctrl","x":3.9,"p":87},{"g":"Ctrl","x":5.5,"p":91.5},{"g":"Ctrl","x":7.7,"p":94.5},{"g":"Ctrl","x":10.5,"p":96.8},{"g":"Ctrl","x":14.5,"p":98.5},{"g":"Ctrl","x":18.5,"p":99.6},{"g":"Ctrl","x":20,"p":100},
{"g":"KO","x":0,"p":0},{"g":"KO","x":0.12,"p":22},{"g":"KO","x":0.28,"p":42},{"g":"KO","x":0.6,"p":62},{"g":"KO","x":1.15,"p":77},{"g":"KO","x":1.95,"p":86},{"g":"KO","x":3.0,"p":90},{"g":"KO","x":4.4,"p":93.5},{"g":"KO","x":6,"p":95.5},{"g":"KO","x":8.7,"p":97.2},{"g":"KO","x":13,"p":98.7},{"g":"KO","x":18.5,"p":99.7},{"g":"KO","x":20,"p":100}
    ]}, "mark": {"type": "line", "interpolate": "monotone", "strokeWidth": 1.5}, "encoding": {"color": {"field": "g", "type": "nominal", "scale": {"domain": ["Ctrl", "KO"], "range": ["#000000", "#d8232a"]}, "legend": null}}},
    {"data": {"values": [{"x": 2.9, "p": 97, "s": "***"}]}, "mark": {"type": "text", "fontSize": 16, "baseline": "middle"}, "encoding": {"text": {"field": "s"}}}
   ]},
  {"width": 72, "height": 119,
   "encoding": {
    "x": {"field": "g", "type": "nominal", "sort": null, "scale": {"domain": ["Ctrl", "KO"], "range": [0, 36], "paddingInner": 0, "paddingOuter": 0}, "axis": {"title": null, "ticks": false, "labelAngle": -45, "labelFontSize": 11.5, "labelPadding": 3, "offset": -10}},
    "y": {"field": "v", "type": "quantitative", "scale": {"domain": [0, 1.3], "range": [109, 13.7], "nice": false}, "axis": {"values": [0, 0.2, 0.4, 0.6, 0.8, 1.0, 1.2], "labelExpr": "round(datum.value * 10) % 4 == 0 ? format(datum.value, '.1f') : ''", "title": "Frequency (Hz)", "titlePadding": 2}}},
   "layer": [
    {"data": {"values": [{"g": "Ctrl", "v": 0.42}, {"g": "KO", "v": 0.52}]}, "mark": {"type": "bar", "width": 9}, "encoding": {"fill": {"field": "g", "type": "nominal", "scale": {"domain": ["Ctrl", "KO"], "range": ["#000000", "#a00000"]}, "legend": null}}},
    {"data": {"values": [{"g": "Ctrl", "v": 0.5, "v2": 0.42}, {"g": "KO", "v": 0.6, "v2": 0.52}]}, "mark": {"type": "rule", "color": "#000000"}, "encoding": {"y2": {"field": "v2"}}},
    {"data": {"values": [{"g": "Ctrl", "v": 0.5}, {"g": "KO", "v": 0.6}]}, "mark": {"type": "tick", "color": "#000000", "size": 6, "thickness": 1}},
    {"data": {"values": [
{"g":"Ctrl","v":0.95},{"g":"Ctrl","v":0.8},{"g":"Ctrl","v":0.7},{"g":"Ctrl","v":0.62},{"g":"Ctrl","v":0.55},{"g":"Ctrl","v":0.5},{"g":"Ctrl","v":0.45},{"g":"Ctrl","v":0.41},{"g":"Ctrl","v":0.37},{"g":"Ctrl","v":0.33},{"g":"Ctrl","v":0.3},{"g":"Ctrl","v":0.27},{"g":"Ctrl","v":0.24},{"g":"Ctrl","v":0.21},{"g":"Ctrl","v":0.18},{"g":"Ctrl","v":0.15},{"g":"Ctrl","v":0.12},{"g":"Ctrl","v":0.1},{"g":"Ctrl","v":0.08},
{"g":"KO","v":1.15},{"g":"KO","v":1.1},{"g":"KO","v":1.05},{"g":"KO","v":0.95},{"g":"KO","v":0.72},{"g":"KO","v":0.68},{"g":"KO","v":0.63},{"g":"KO","v":0.58},{"g":"KO","v":0.53},{"g":"KO","v":0.49},{"g":"KO","v":0.45},{"g":"KO","v":0.41},{"g":"KO","v":0.38},{"g":"KO","v":0.35},{"g":"KO","v":0.31},{"g":"KO","v":0.27},{"g":"KO","v":0.23},{"g":"KO","v":0.2},{"g":"KO","v":0.16},{"g":"KO","v":0.12},{"g":"KO","v":0.09},{"g":"KO","v":0.07},{"g":"KO","v":0.05},{"g":"KO","v":0.04}
    ]}, "mark": {"type": "point", "shape": "square", "filled": false, "size": 8, "strokeWidth": 0.8, "xOffset": 9}, "encoding": {"stroke": {"field": "g", "type": "nominal", "scale": {"domain": ["Ctrl", "KO"], "range": ["#a6a6a6", "#f07f7f"]}, "legend": null}}}
   ]},
  {"width": 77, "height": 119, "title": {"text": "H", "dx": -28, "offset": -5},
   "encoding": {
    "x": {"field": "g", "type": "nominal", "sort": null, "scale": {"domain": ["Ctrl", "KO"], "range": [0, 49], "paddingInner": 0, "paddingOuter": 0}, "axis": {"title": null, "ticks": false, "labelAngle": -45, "labelFontSize": 10.5, "labelPadding": 0, "labelExpr": "datum.value == 'KO' ? 'Clstn3 KO' : 'Ctrl'"}},
    "y": {"field": "v", "type": "quantitative", "scale": {"domain": [0, 5], "nice": false}, "axis": {"values": [0, 1, 2, 3, 4, 5], "title": "Rise time (ms)"}}},
   "layer": [
    {"data": {"values": [{"g": "Ctrl", "v": 3.7}, {"g": "KO", "v": 3.7}]}, "mark": {"type": "bar", "width": 11}, "encoding": {"fill": {"field": "g", "type": "nominal", "scale": {"domain": ["Ctrl", "KO"], "range": ["#000000", "#a00000"]}, "legend": null}}},
    {"data": {"values": [{"g": "Ctrl", "v": 3.87, "v2": 3.7}, {"g": "KO", "v": 3.84, "v2": 3.7}]}, "mark": {"type": "rule", "color": "#000000"}, "encoding": {"y2": {"field": "v2"}}},
    {"data": {"values": [{"g": "Ctrl", "v": 3.87}, {"g": "KO", "v": 3.84}]}, "mark": {"type": "tick", "color": "#000000", "size": 7, "thickness": 1}},
    {"data": {"values": [
{"g":"Ctrl","v":5.0},{"g":"Ctrl","v":4.8},{"g":"Ctrl","v":4.6},{"g":"Ctrl","v":4.4},{"g":"Ctrl","v":4.2},{"g":"Ctrl","v":4.0},{"g":"Ctrl","v":3.9},{"g":"Ctrl","v":3.8},{"g":"Ctrl","v":3.7},{"g":"Ctrl","v":3.6},{"g":"Ctrl","v":3.5},{"g":"Ctrl","v":3.4},{"g":"Ctrl","v":3.2},{"g":"Ctrl","v":3.0},{"g":"Ctrl","v":2.8},{"g":"Ctrl","v":2.6},{"g":"Ctrl","v":2.4},{"g":"Ctrl","v":2.0},{"g":"Ctrl","v":3.3},
{"g":"KO","v":5.0},{"g":"KO","v":4.9},{"g":"KO","v":4.5},{"g":"KO","v":4.3},{"g":"KO","v":4.2},{"g":"KO","v":4.1},{"g":"KO","v":4.0},{"g":"KO","v":3.9},{"g":"KO","v":3.8},{"g":"KO","v":3.7},{"g":"KO","v":3.6},{"g":"KO","v":3.5},{"g":"KO","v":3.4},{"g":"KO","v":3.3},{"g":"KO","v":3.2},{"g":"KO","v":3.1},{"g":"KO","v":3.0},{"g":"KO","v":2.9},{"g":"KO","v":2.8},{"g":"KO","v":2.7},{"g":"KO","v":4.4},{"g":"KO","v":3.95},{"g":"KO","v":3.65},{"g":"KO","v":3.35}
    ]}, "mark": {"type": "point", "shape": "square", "filled": false, "size": 8, "strokeWidth": 0.8, "xOffset": 11}, "encoding": {"stroke": {"field": "g", "type": "nominal", "scale": {"domain": ["Ctrl", "KO"], "range": ["#a6a6a6", "#f07f7f"]}, "legend": null}}}
   ]},
  {"width": 71, "height": 119,
   "encoding": {
    "x": {"field": "g", "type": "nominal", "sort": null, "scale": {"domain": ["Ctrl", "KO"], "range": [0, 55], "paddingInner": 0, "paddingOuter": 0}, "axis": {"title": null, "ticks": false, "labelAngle": -45, "labelFontSize": 10.5, "labelPadding": 0, "labelExpr": "datum.value == 'KO' ? 'Clstn3 KO' : 'Ctrl'"}},
    "y": {"field": "v", "type": "quantitative", "scale": {"domain": [0, 12.9], "nice": false}, "axis": {"values": [0, 2, 4, 6, 8, 10, 12], "labelExpr": "datum.value % 4 == 0 ? format(datum.value, 'd') : ''", "title": "Decay time (ms)"}}},
   "layer": [
    {"data": {"values": [{"g": "Ctrl", "v": 11.1}, {"g": "KO", "v": 11.2}]}, "mark": {"type": "bar", "width": 11}, "encoding": {"fill": {"field": "g", "type": "nominal", "scale": {"domain": ["Ctrl", "KO"], "range": ["#000000", "#a00000"]}, "legend": null}}},
    {"data": {"values": [{"g": "Ctrl", "v": 11.3, "v2": 11.1}, {"g": "KO", "v": 11.4, "v2": 11.2}]}, "mark": {"type": "rule", "color": "#000000"}, "encoding": {"y2": {"field": "v2"}}},
    {"data": {"values": [{"g": "Ctrl", "v": 11.3}, {"g": "KO", "v": 11.4}]}, "mark": {"type": "tick", "color": "#000000", "size": 7, "thickness": 1}},
    {"data": {"values": [
{"g":"Ctrl","v":12.5},{"g":"Ctrl","v":12.3},{"g":"Ctrl","v":12.0},{"g":"Ctrl","v":11.8},{"g":"Ctrl","v":11.6},{"g":"Ctrl","v":11.4},{"g":"Ctrl","v":11.2},{"g":"Ctrl","v":11.0},{"g":"Ctrl","v":10.8},{"g":"Ctrl","v":10.6},{"g":"Ctrl","v":10.4},{"g":"Ctrl","v":10.2},{"g":"Ctrl","v":10.0},{"g":"Ctrl","v":11.1},{"g":"Ctrl","v":11.3},{"g":"Ctrl","v":11.5},{"g":"Ctrl","v":10.9},{"g":"Ctrl","v":10.7},{"g":"Ctrl","v":10.5},
{"g":"KO","v":12.8},{"g":"KO","v":12.6},{"g":"KO","v":12.4},{"g":"KO","v":12.2},{"g":"KO","v":12.0},{"g":"KO","v":11.8},{"g":"KO","v":11.6},{"g":"KO","v":11.4},{"g":"KO","v":11.2},{"g":"KO","v":11.0},{"g":"KO","v":10.8},{"g":"KO","v":10.6},{"g":"KO","v":10.4},{"g":"KO","v":10.2},{"g":"KO","v":10.0},{"g":"KO","v":12.9},{"g":"KO","v":12.7},{"g":"KO","v":12.5},{"g":"KO","v":11.5},{"g":"KO","v":11.3},{"g":"KO","v":11.1},{"g":"KO","v":10.9},{"g":"KO","v":10.7},{"g":"KO","v":10.5}
    ]}, "mark": {"type": "point", "shape": "square", "filled": false, "size": 8, "strokeWidth": 0.8, "xOffset": 11}, "encoding": {"stroke": {"field": "g", "type": "nominal", "scale": {"domain": ["Ctrl", "KO"], "range": ["#a6a6a6", "#f07f7f"]}, "legend": null}}}
   ]}
 ], "spacing": 0, "bounds": "flush"}
]
}
